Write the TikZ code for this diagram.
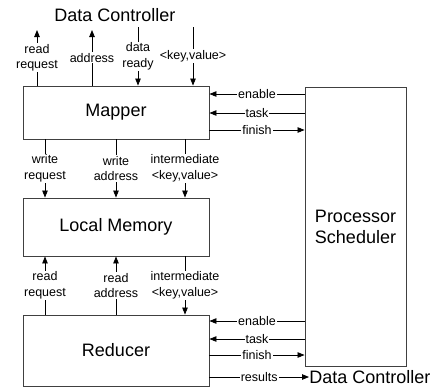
\documentclass[tikz,border=0pt]{standalone}
\usepackage{fontspec}
\setmainfont{Liberation Sans}
\usetikzlibrary{arrows.meta, positioning}

\begin{document}
\begin{tikzpicture}[x=1pt,y=-1pt,>={Triangle[length=7pt,width=5.5pt]},line width=0.8pt,
block/.style={draw=black!75,line width=0.9pt,minimum width=186pt,inner sep=0pt,font=\fontsize{18}{21}\selectfont},
lbl/.style={fill=white,inner sep=1pt,align=center,font=\fontsize{12.5}{15.5}\selectfont}]
\useasboundingbox (0,0) rectangle (435,391);
\node[block,minimum height=53pt] (mapper) at (116,112.5) {Mapper};
\node[block,minimum height=58pt] (memory) at (116,227) {Local Memory};
\node[block,minimum height=71pt] (reducer) at (116,350.5) {Reducer};
\node[block,minimum width=101pt,minimum height=279pt,align=center] (sched) at (355.5,226.5) {Processor\\Scheduler};
\node[font=\fontsize{18}{21}\selectfont] (dctop) at (115,15) {Data Controller};
\node[anchor=west,inner sep=0pt,font=\fontsize{18}{21}\selectfont] (dcbot) at (309,377) {Data Controller};
% free ends and columns
\coordinate (rr) at (37,30);
\coordinate (ad) at (92,30);
\coordinate (dr) at (138,27);
\coordinate (kv) at (193,27);
\coordinate (wr) at (45,0);
\coordinate (wa) at (116,0);
\coordinate (im) at (185,0);
% rows
\coordinate (men) at (0,94);
\coordinate (mta) at (0,113);
\coordinate (mfi) at (0,130);
\coordinate (ren) at (0,321);
\coordinate (rta) at (0,339);
\coordinate (rfi) at (0,355);
% mapper and data controller
\draw[->] (mapper.north -| rr) -- node[lbl]{read\\request} (rr);
\draw[->] (mapper.north -| ad) -- node[lbl]{address} (ad);
\draw[<-] (mapper.north -| dr) -- node[lbl]{data\\ready} (dr);
\draw[<-] (mapper.north -| kv) -- node[lbl]{<key,value>} (kv);
% mapper and local memory
\draw[->] (mapper.south -| wr) -- node[lbl]{write\\request} (memory.north -| wr);
\draw[->] (mapper.south -| wa) -- node[lbl]{write\\address} (memory.north -| wa);
\draw[->] (mapper.south -| im) -- node[lbl]{intermediate\\<key,value>} (memory.north -| im);
% local memory and reducer
\draw[<-] (memory.south -| wr) -- node[lbl]{read\\request} (reducer.north -| wr);
\draw[<-] (memory.south -| wa) -- node[lbl]{read\\address} (reducer.north -| wa);
\draw[->] (memory.south -| im) -- node[lbl]{intermediate\\<key,value>} (reducer.north -| im);
% scheduler
\draw[->] (sched.west |- men) -- node[lbl]{enable} (mapper.east |- men);
\draw[->] (sched.west |- mta) -- node[lbl]{task} (mapper.east |- mta);
\draw[->] (mapper.east |- mfi) -- node[lbl]{finish} (sched.west |- mfi);
\draw[->] (sched.west |- ren) -- node[lbl]{enable} (reducer.east |- ren);
\draw[->] (sched.west |- rta) -- node[lbl]{task} (reducer.east |- rta);
\draw[->] (reducer.east |- rfi) -- node[lbl]{finish} (sched.west |- rfi);
\draw[->] (reducer.east |- dcbot.west) -- node[lbl]{results} (dcbot.west);
\end{tikzpicture}
\end{document}
